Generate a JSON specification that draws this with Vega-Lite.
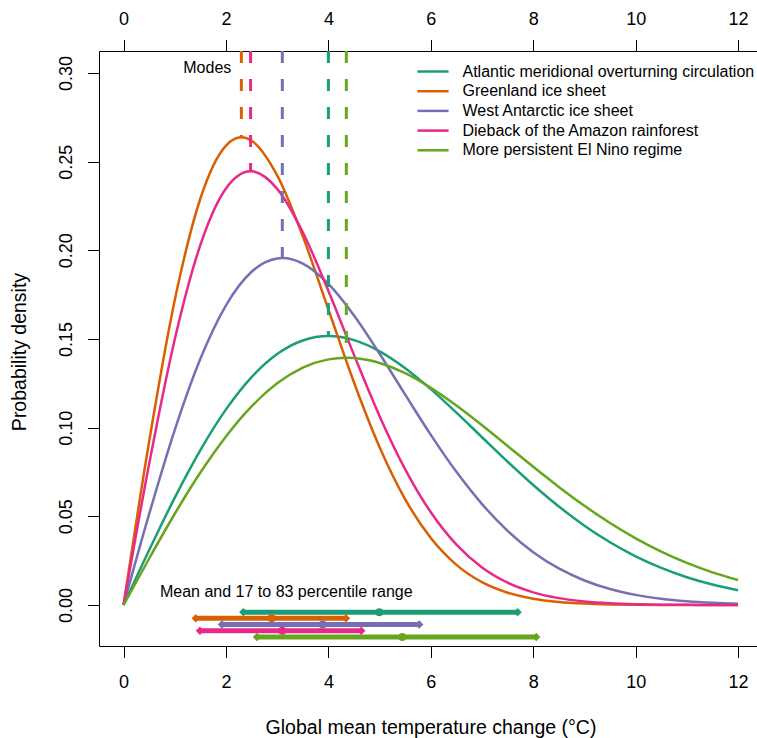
{
  "$schema": "https://vega.github.io/schema/vega-lite/v6.json",
  "autosize": {"type": "none"},
  "padding": {"left": 99, "top": 51, "right": 0, "bottom": 92},
  "width": 658,
  "height": 595,
  "background": "white",
  "config": {
    "font": "Liberation Sans",
    "view": {"stroke": null},
    "axis": {"grid": false, "domainColor": "black", "tickColor": "black", "labelColor": "black", "titleColor": "black", "domainWidth": 1, "tickWidth": 1, "labelFontSize": 18, "titleFontSize": 19.5, "titleFontWeight": "normal", "labelFont": "Liberation Sans", "titleFont": "Liberation Sans", "tickSize": 11.5}
  },
  "datasets": {
    "curves": [
      {"x": 0, "Atlantic meridional overturning circulation": 0, "Greenland ice sheet": 0, "West Antarctic ice sheet": 0, "Dieback of the Amazon rainforest": 0, "More persistent El Nino regime": 0},
      {"x": 0.5, "Atlantic meridional overturning circulation": 0.03101, "Greenland ice sheet": 0.09231, "West Antarctic ice sheet": 0.05136, "Dieback of the Amazon rainforest": 0.07966, "More persistent El Nino regime": 0.02625},
      {"x": 1, "Atlantic meridional overturning circulation": 0.06058, "Greenland ice sheet": 0.17199, "West Antarctic ice sheet": 0.09878, "Dieback of the Amazon rainforest": 0.1499, "More persistent El Nino regime": 0.05147},
      {"x": 1.5, "Atlantic meridional overturning circulation": 0.08738, "Greenland ice sheet": 0.22924, "West Antarctic ice sheet": 0.13885, "Dieback of the Amazon rainforest": 0.20312, "More persistent El Nino regime": 0.0747},
      {"x": 2, "Atlantic meridional overturning circulation": 0.11031, "Greenland ice sheet": 0.25906, "West Antarctic ice sheet": 0.16902, "Dieback of the Amazon rainforest": 0.2349, "More persistent El Nino regime": 0.09509},
      {"x": 2.3, "Greenland ice sheet": 0.26371},
      {"x": 2.48, "Dieback of the Amazon rainforest": 0.24457},
      {"x": 2.5, "Atlantic meridional overturning circulation": 0.12853, "Greenland ice sheet": 0.26178, "West Antarctic ice sheet": 0.18792, "Dieback of the Amazon rainforest": 0.24455, "More persistent El Nino regime": 0.11201},
      {"x": 3, "Atlantic meridional overturning circulation": 0.14153, "Greenland ice sheet": 0.24223, "West Antarctic ice sheet": 0.19545, "Dieback of the Amazon rainforest": 0.23468, "More persistent El Nino regime": 0.12499},
      {"x": 3.1, "West Antarctic ice sheet": 0.19566},
      {"x": 3.5, "Atlantic meridional overturning circulation": 0.14917, "Greenland ice sheet": 0.20786, "West Antarctic ice sheet": 0.19255, "Dieback of the Amazon rainforest": 0.21021, "More persistent El Nino regime": 0.13382},
      {"x": 4, "Atlantic meridional overturning circulation": 0.15163, "Greenland ice sheet": 0.16666, "West Antarctic ice sheet": 0.18105, "Dieback of the Amazon rainforest": 0.17711, "More persistent El Nino regime": 0.13851},
      {"x": 4.35, "More persistent El Nino regime": 0.13943},
      {"x": 4.5, "Atlantic meridional overturning circulation": 0.14937, "Greenland ice sheet": 0.12549, "West Antarctic ice sheet": 0.16327, "Dieback of the Amazon rainforest": 0.14107, "More persistent El Nino regime": 0.13927},
      {"x": 5, "Atlantic meridional overturning circulation": 0.14307, "Greenland ice sheet": 0.08899, "West Antarctic ice sheet": 0.14169, "Dieback of the Amazon rainforest": 0.1065, "More persistent El Nino regime": 0.1365},
      {"x": 5.5, "Atlantic meridional overturning circulation": 0.13357, "Greenland ice sheet": 0.05959, "West Antarctic ice sheet": 0.11862, "Dieback of the Amazon rainforest": 0.07649, "More persistent El Nino regime": 0.1307},
      {"x": 6, "Atlantic meridional overturning circulation": 0.12174, "Greenland ice sheet": 0.03776, "West Antarctic ice sheet": 0.09596, "Dieback of the Amazon rainforest": 0.05228, "More persistent El Nino regime": 0.12247},
      {"x": 6.5, "Atlantic meridional overturning circulation": 0.10849, "Greenland ice sheet": 0.02266, "West Antarctic ice sheet": 0.07509, "Dieback of the Amazon rainforest": 0.03406, "More persistent El Nino regime": 0.11249},
      {"x": 7, "Atlantic meridional overturning circulation": 0.09462, "Greenland ice sheet": 0.01289, "West Antarctic ice sheet": 0.05692, "Dieback of the Amazon rainforest": 0.02119, "More persistent El Nino regime": 0.10135},
      {"x": 7.5, "Atlantic meridional overturning circulation": 0.08081, "Greenland ice sheet": 0.00696, "West Antarctic ice sheet": 0.04182, "Dieback of the Amazon rainforest": 0.0126, "More persistent El Nino regime": 0.08966},
      {"x": 8, "Atlantic meridional overturning circulation": 0.06767, "Greenland ice sheet": 0.00357, "West Antarctic ice sheet": 0.0298, "Dieback of the Amazon rainforest": 0.00715, "More persistent El Nino regime": 0.07793},
      {"x": 8.5, "Atlantic meridional overturning circulation": 0.05556, "Greenland ice sheet": 0.00174, "West Antarctic ice sheet": 0.02062, "Dieback of the Amazon rainforest": 0.00389, "More persistent El Nino regime": 0.06659},
      {"x": 9, "Atlantic meridional overturning circulation": 0.04476, "Greenland ice sheet": 0.0008, "West Antarctic ice sheet": 0.01385, "Dieback of the Amazon rainforest": 0.00202, "More persistent El Nino regime": 0.05594},
      {"x": 9.5, "Atlantic meridional overturning circulation": 0.03538, "Greenland ice sheet": 0.00035, "West Antarctic ice sheet": 0.00903, "Dieback of the Amazon rainforest": 0.00101, "More persistent El Nino regime": 0.04625},
      {"x": 10, "Atlantic meridional overturning circulation": 0.02746, "Greenland ice sheet": 0.00015, "West Antarctic ice sheet": 0.00572, "Dieback of the Amazon rainforest": 0.00048, "More persistent El Nino regime": 0.03762},
      {"x": 10.5, "Atlantic meridional overturning circulation": 0.02093, "Greenland ice sheet": 0.00006, "West Antarctic ice sheet": 0.00352, "Dieback of the Amazon rainforest": 0.00021, "More persistent El Nino regime": 0.03014},
      {"x": 11, "Atlantic meridional overturning circulation": 0.01568, "Greenland ice sheet": 0.00002, "West Antarctic ice sheet": 0.00211, "Dieback of the Amazon rainforest": 0.00009, "More persistent El Nino regime": 0.02376},
      {"x": 11.5, "Atlantic meridional overturning circulation": 0.01153, "Greenland ice sheet": 0.00001, "West Antarctic ice sheet": 0.00123, "Dieback of the Amazon rainforest": 0.00004, "More persistent El Nino regime": 0.01845},
      {"x": 12, "Atlantic meridional overturning circulation": 0.00833, "Greenland ice sheet": 0, "West Antarctic ice sheet": 0.0007, "Dieback of the Amazon rainforest": 0.00001, "More persistent El Nino regime": 0.01412}
    ],
    "modes": [
      {"series": "Atlantic meridional overturning circulation", "mode": 4.0, "peak": 0.15163},
      {"series": "Greenland ice sheet", "mode": 2.3, "peak": 0.26371},
      {"series": "West Antarctic ice sheet", "mode": 3.1, "peak": 0.19566},
      {"series": "Dieback of the Amazon rainforest", "mode": 2.48, "peak": 0.24457},
      {"series": "More persistent El Nino regime", "mode": 4.35, "peak": 0.13943}
    ],
    "ranges": [
      {"series": "Atlantic meridional overturning circulation", "lo": 2.338, "mean": 4.994, "hi": 7.696, "level": -0.004},
      {"series": "Greenland ice sheet", "lo": 1.408, "mean": 2.892, "hi": 4.343, "level": -0.0075},
      {"series": "West Antarctic ice sheet", "lo": 1.921, "mean": 3.888, "hi": 5.774, "level": -0.011},
      {"series": "Dieback of the Amazon rainforest", "lo": 1.492, "mean": 3.099, "hi": 4.642, "level": -0.0145},
      {"series": "More persistent El Nino regime", "lo": 2.605, "mean": 5.443, "hi": 8.059, "level": -0.018}
    ]
  },
  "resolve": {"axis": {"x": "independent"}},
  "layer": [
    {
      "data": {"name": "curves"},
      "transform": [
        {"fold": ["Atlantic meridional overturning circulation", "Greenland ice sheet", "West Antarctic ice sheet", "Dieback of the Amazon rainforest", "More persistent El Nino regime"], "as": ["series", "density"]},
        {"filter": "isValid(datum.density)"}
      ],
      "mark": {"type": "line", "strokeWidth": 2.5, "interpolate": "monotone"},
      "encoding": {
        "x": {"field": "x", "type": "quantitative", "scale": {"domain": [-0.48, 12.37], "nice": false, "zero": false},
          "axis": {"orient": "bottom", "values": [0, 2, 4, 6, 8, 10, 12], "labelBaseline": "alphabetic", "labelPadding": 30, "title": "Global mean temperature change (°C)", "titleX": 331.5, "titleY": 87, "titleBaseline": "alphabetic", "titleAlign": "center", "labelFlush": false, "labelOverlap": false}},
        "y": {"field": "density", "type": "quantitative", "scale": {"domain": [-0.0231, 0.3124], "nice": false, "zero": false},
          "axis": {"values": [0, 0.05, 0.1, 0.15, 0.2, 0.25, 0.3], "format": ".2f", "labelAngle": -90, "labelAlign": "center", "labelBaseline": "alphabetic", "labelPadding": 15.8, "title": "Probability density", "titleX": -74, "titleY": 300.5, "titleAngle": -90, "titleBaseline": "alphabetic", "titleAlign": "center", "labelFlush": false, "labelOverlap": false}},
        "color": {"field": "series", "type": "nominal",
          "scale": {"domain": ["Atlantic meridional overturning circulation", "Greenland ice sheet", "West Antarctic ice sheet", "Dieback of the Amazon rainforest", "More persistent El Nino regime"], "range": ["#1B9E77", "#D95F02", "#7570B3", "#E7298A", "#66A61E"]},
          "legend": {"orient": "none", "legendX": 324, "legendY": 10.5, "title": null, "symbolType": "M-1.8,0H1.8", "symbolSize": 300, "symbolStrokeWidth": 2.5, "labelFontSize": 16, "labelFont": "Liberation Sans", "labelColor": "black", "labelLimit": 400, "labelOffset": 19.5, "rowPadding": 1.7, "padding": 0}}
      }
    },
    {
      "data": {"name": "modes"},
      "mark": {"type": "rule", "strokeWidth": 3, "strokeDash": [12, 16], "strokeDashOffset": {"expr": "12 - scale('y', datum.peak)"}},
      "encoding": {
        "x": {"field": "mode", "type": "quantitative", "axis": {"orient": "top", "values": [0, 2, 4, 6, 8, 10, 12], "title": null, "labelBaseline": "alphabetic", "labelPadding": 15, "labelFlush": false, "labelOverlap": false}},
        "y": {"field": "peak", "type": "quantitative",
          "axis": {"values": [0, 0.05, 0.1, 0.15, 0.2, 0.25, 0.3], "format": ".2f", "labelAngle": -90, "labelAlign": "center", "labelBaseline": "alphabetic", "labelPadding": 15.8, "title": "Probability density", "titleX": -74, "titleY": 300.5, "titleAngle": -90, "titleBaseline": "alphabetic", "titleAlign": "center", "labelFlush": false, "labelOverlap": false}},
        "y2": {"datum": 0.3124},
        "color": {"field": "series", "type": "nominal", "legend": null}
      }
    },
    {
      "data": {"name": "ranges"},
      "mark": {"type": "rule", "strokeWidth": 5},
      "encoding": {
        "x": {"field": "lo", "type": "quantitative", "axis": null},
        "x2": {"field": "hi"},
        "y": {"field": "level", "type": "quantitative",
          "axis": {"values": [0, 0.05, 0.1, 0.15, 0.2, 0.25, 0.3], "format": ".2f", "labelAngle": -90, "labelAlign": "center", "labelBaseline": "alphabetic", "labelPadding": 15.8, "title": "Probability density", "titleX": -74, "titleY": 300.5, "titleAngle": -90, "titleBaseline": "alphabetic", "titleAlign": "center", "labelFlush": false, "labelOverlap": false}},
        "color": {"field": "series", "type": "nominal", "legend": null}
      }
    },
    {
      "data": {"name": "ranges"},
      "transform": [{"fold": ["lo", "hi"], "as": ["end", "pos"]}],
      "mark": {"type": "point", "shape": "diamond", "filled": true, "size": 70, "opacity": 1},
      "encoding": {
        "x": {"field": "pos", "type": "quantitative", "axis": null},
        "y": {"field": "level", "type": "quantitative",
          "axis": {"values": [0, 0.05, 0.1, 0.15, 0.2, 0.25, 0.3], "format": ".2f", "labelAngle": -90, "labelAlign": "center", "labelBaseline": "alphabetic", "labelPadding": 15.8, "title": "Probability density", "titleX": -74, "titleY": 300.5, "titleAngle": -90, "titleBaseline": "alphabetic", "titleAlign": "center", "labelFlush": false, "labelOverlap": false}},
        "color": {"field": "series", "type": "nominal", "legend": null}
      }
    },
    {
      "data": {"name": "ranges"},
      "mark": {"type": "point", "shape": "circle", "filled": true, "size": 64, "opacity": 1},
      "encoding": {
        "x": {"field": "mean", "type": "quantitative", "axis": null},
        "y": {"field": "level", "type": "quantitative",
          "axis": {"values": [0, 0.05, 0.1, 0.15, 0.2, 0.25, 0.3], "format": ".2f", "labelAngle": -90, "labelAlign": "center", "labelBaseline": "alphabetic", "labelPadding": 15.8, "title": "Probability density", "titleX": -74, "titleY": 300.5, "titleAngle": -90, "titleBaseline": "alphabetic", "titleAlign": "center", "labelFlush": false, "labelOverlap": false}},
        "color": {"field": "series", "type": "nominal", "legend": null}
      }
    },
    {
      "data": {"values": [{}]},
      "mark": {"type": "text", "text": "Modes", "align": "left", "baseline": "middle", "fontSize": 16, "font": "Liberation Sans", "color": "black"},
      "encoding": {
        "x": {"datum": 1.166, "type": "quantitative", "axis": null},
        "y": {"datum": 0.303, "type": "quantitative",
          "axis": {"values": [0, 0.05, 0.1, 0.15, 0.2, 0.25, 0.3], "format": ".2f", "labelAngle": -90, "labelAlign": "center", "labelBaseline": "alphabetic", "labelPadding": 15.8, "title": "Probability density", "titleX": -74, "titleY": 300.5, "titleAngle": -90, "titleBaseline": "alphabetic", "titleAlign": "center", "labelFlush": false, "labelOverlap": false}}
      }
    },
    {
      "data": {"values": [{}]},
      "mark": {"type": "text", "text": "Mean and 17 to 83 percentile range", "align": "left", "baseline": "middle", "fontSize": 16, "font": "Liberation Sans", "color": "black"},
      "encoding": {
        "x": {"datum": 0.711, "type": "quantitative", "axis": null},
        "y": {"datum": 0.00735, "type": "quantitative",
          "axis": {"values": [0, 0.05, 0.1, 0.15, 0.2, 0.25, 0.3], "format": ".2f", "labelAngle": -90, "labelAlign": "center", "labelBaseline": "alphabetic", "labelPadding": 15.8, "title": "Probability density", "titleX": -74, "titleY": 300.5, "titleAngle": -90, "titleBaseline": "alphabetic", "titleAlign": "center", "labelFlush": false, "labelOverlap": false}}
      }
    }
  ]
}
